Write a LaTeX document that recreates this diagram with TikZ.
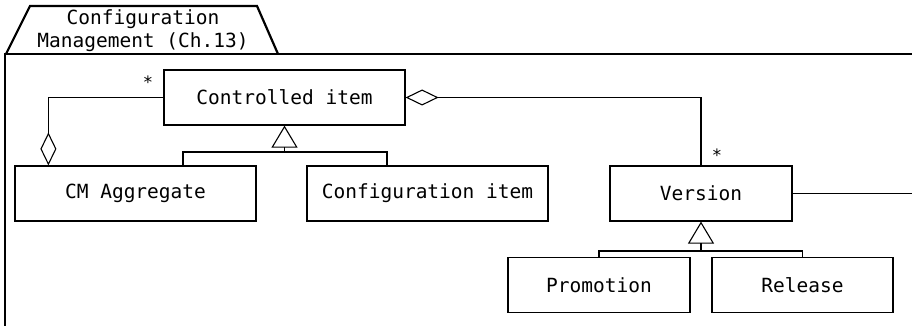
\documentclass[tikz,border=0pt]{standalone}
\usepackage{fontspec}
\setmonofont{DejaVu Sans Mono}
\usetikzlibrary{arrows.meta}
\tikzset{
  cls/.style={draw, line width=1.2pt, inner sep=0pt, minimum height=55pt, font=\ttfamily\fontsize{19.5}{23}\selectfont},
  conn/.style={line width=1.1pt},
  gen/.style={conn, -{Triangle[open, length=22pt, width=26pt, line width=1.1pt]}},
  aggr/.style={conn, -{Diamond[open, length=33pt, width=16pt, line width=1.1pt]}},
  mult/.style={font=\ttfamily\fontsize{17}{20}\selectfont, inner sep=0pt},
  frame/.style={line width=2.2pt}
}
\begin{document}
\begin{tikzpicture}[x=1pt, y=-1pt]
\useasboundingbox (0,0) rectangle (912,326);
% package
\draw[frame, line join=miter] (6,54) -- (30,6) -- (257,6) -- (278,54);
\draw[frame] (5,340) -- (5,54) -- (920,54);
\node[align=center, font=\ttfamily\fontsize{19.5}{23}\selectfont, inner sep=0pt] (pkg) at (143,31) {Configuration\\Management (Ch.13)};
% classes
\node[cls, minimum width=241pt] (ctrl) at (284.5,97.5) {Controlled item};
\node[cls, minimum width=241pt] (cmagg) at (135.5,193.5) {CM Aggregate};
\node[cls, minimum width=241pt] (cfg) at (427.5,193.5) {Configuration item};
\node[cls, minimum width=182pt] (ver) at (701,193.5) {Version};
\node[cls, minimum width=182pt] (prom) at (599,285) {Promotion};
\node[cls, minimum width=181pt] (rel) at (802.5,285) {Release};
% generalizations
\coordinate (j1) at (284.5,152);
\draw[gen] ([xshift=47.5pt]cmagg.north) |- (j1) -- (ctrl.south);
\draw[conn] ([xshift=-40.5pt]cfg.north) |- (j1);
\coordinate (j2) at (701,251);
\draw[gen] (prom.north) |- (j2) -- (ver.south);
\draw[conn] (rel.north) |- (j2);
% aggregations
\draw[aggr] (ctrl.west) -| ([xshift=34pt]cmagg.north west);
\draw[aggr] (ver.north) |- (ctrl.east);
\coordinate (vout) at (915,193.5);
\draw[conn] (ver.east) -- (vout);
% multiplicities
\node[mult] (m1) at (148,82) {*};
\node[mult] (m2) at (717,155) {*};
\end{tikzpicture}
\end{document}
